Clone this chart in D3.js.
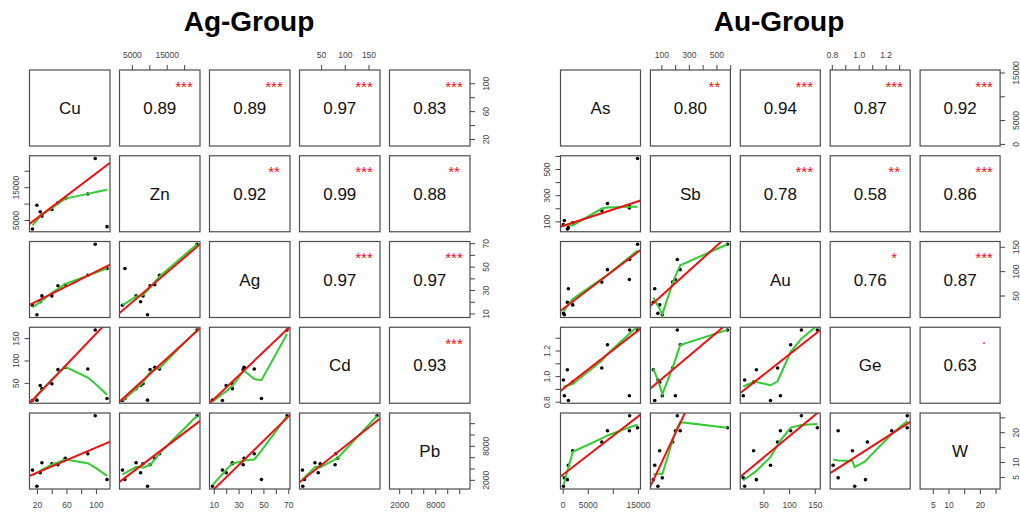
<!DOCTYPE html>
<meta charset="utf-8">
<style>
body { margin: 0; background: #fff; }
svg { font-family: "Liberation Sans", Arial, sans-serif; }
.title { font-size: 28px; font-weight: bold; fill: #000; }
.frame { fill: none; stroke: #4d4d4d; stroke-width: 1.2px; }
.fit { fill: none; stroke: #ee1111; stroke-width: 2px; }
.smooth { fill: none; stroke: #33cc33; stroke-width: 2px; }
.axis text { font-size: 8.5px; fill: #444; }
.axis line { stroke: #444; }
.lab { font-size: 17px; fill: #111; }
.stars { font-size: 15px; fill: #ee1111; }
</style>
<svg width="1020" height="515"></svg>
<script src="https://d3js.org/d3.v7.min.js"></script>
<script>
// ten samples, same order in every element array
var agNames = ["Cu", "Zn", "Ag", "Cd", "Pb"];
var agCu = [14, 20, 24.5, 26.8, 40.3, 48.5, 58.4, 89, 99, 115];
var agZn = [2300, 9500, 7500, 6200, 8200, 10230, 11570, 12940, 23700, 3000];
var agAg = [17, 9, 20, 25, 25, 33.7, 34.5, 42.6, 69, 48.4];
var agCd = [10.7, 11.3, 44, 37, 48, 79.5, 84.7, 81, 168, 15];
var agPb = [3720, 880, 3240, 5010, 4840, 4660, 5800, 6610, 13300, 2070];

var auNames = ["As", "Sb", "Au", "Ge", "W"];
var auAs = [150, 330, 930, 1130, 2000, 7800, 8930, 13300, 13350, 14930];
var auSb = [75, 107, 42, 52, 88, 182, 237, 202, 216, 580];
var auAu = [13.4, 10.7, 36.2, 63.8, 30.8, 77.5, 103, 83, 124, 155];
var auGe = [0.97, 0.847, 1.05, 0.81, 0.953, 1.064, 1.245, 0.847, 1.36, 1.36];
var auW = [1.9, 4.7, 4.1, 8.9, 13.8, 16.7, 20.5, 20.5, 25.5, 21.5];

// upper panels, row by row
var agCor = ["0.89", "0.89", "0.97", "0.83", "0.92", "0.99", "0.88", "0.97", "0.97", "0.93"];
var agStars = ["***", "***", "***", "***", "**", "***", "**", "***", "***", "***"];
var auCor = ["0.80", "0.94", "0.87", "0.92", "0.78", "0.58", "0.86", "0.76", "0.87", "0.63"];
var auStars = ["**", "***", "***", "***", "***", "**", "***", "*", "***", "."];

// fitted lines of the lower panels, row by row: [intercept, slope]
var agFit = [[2157, 170], [14.15, 0.315], [6.69, 0.002541], [-13.2, 1.728], [-2.25, 0.0071],
             [-13.5, 2.65], [2159, 55.1], [953, 0.4663], [-1845, 214.5], [1274, 66.28]];
var auFit = [[64.4, 0.01257], [22.1, 0.00782], [23.8, 0.2555], [0.898, 3.05e-5], [0.885, 0.000907],
             [0.852, 0.003164], [5.72, 0.0013], [-0.2, 0.0984], [4.36, 0.1424], [-16.5, 28.9]];

// axis ticks and their labels
var agTicks = [[20, 40, 60, 80, 100], [5000, 10000, 15000, 20000], [10, 20, 30, 40, 50, 60, 70],
               [50, 100, 150], [2000, 4000, 6000, 8000, 10000, 12000]];
var agTickText = [["20", "", "60", "", "100"], ["5000", "", "15000", ""], ["10", "", "30", "", "50", "", "70"],
                  ["50", "100", "150"], ["2000", "", "", "8000", "", ""]];
var auTicks = [[0, 5000, 10000, 15000], [100, 200, 300, 400, 500, 600], [50, 100, 150],
               [0.8, 0.9, 1.0, 1.1, 1.2, 1.3], [5, 10, 15, 20, 25]];
var auTickText = [["0", "5000", "", "15000"], ["100", "", "300", "", "500", ""], ["50", "100", "150"],
                  ["0.8", "", "1.0", "", "1.2", ""], ["5", "10", "", "20", ""]];

var svg = d3.select("svg");
var top0 = 70, rowStep = 85.75, ph = 76;

function expand(v) {
  var e = d3.extent(v), r = e[1] - e[0];
  return [e[0] - 0.04 * r, e[1] + 0.04 * r];
}

// port of R's clowess
function lowess(xIn, yIn, f, nsteps) {
  var n = xIn.length;
  var ord = d3.range(n).sort(function(a, b) { return xIn[a] - xIn[b]; });
  var x = [0], y = [0];
  ord.forEach(function(k) { x.push(xIn[k]); y.push(yIn[k]); });
  var delta = 0.01 * (x[n] - x[1]);
  var ys = [], rw = [], res = [];
  for (var k = 0; k <= n; k++) { ys.push(0); rw.push(1); res.push(0); }
  var ns = Math.max(2, Math.min(n, Math.floor(f * n + 1e-7)));

  function lowest(xs, nleft, nright, userw) {
    var range = x[n] - x[1];
    var h = Math.max(xs - x[nleft], x[nright] - xs);
    var h9 = 0.999 * h, h1 = 0.001 * h;
    var a = 0, j = nleft, w = res;
    while (j <= n) {
      w[j] = 0;
      var r = Math.abs(x[j] - xs);
      if (r <= h9) {
        w[j] = r <= h1 ? 1 : Math.pow(1 - Math.pow(r / h, 3), 3);
        if (userw) w[j] *= rw[j];
        a += w[j];
      } else if (x[j] > xs) break;
      j++;
    }
    var nrt = j - 1;
    if (a <= 0) return null;
    for (j = nleft; j <= nrt; j++) w[j] /= a;
    if (h > 0) {
      a = 0;
      for (j = nleft; j <= nrt; j++) a += w[j] * x[j];
      var b = xs - a, c = 0;
      for (j = nleft; j <= nrt; j++) c += w[j] * (x[j] - a) * (x[j] - a);
      if (Math.sqrt(c) > 0.001 * range) {
        b /= c;
        for (j = nleft; j <= nrt; j++) w[j] *= (b * (x[j] - a) + 1);
      }
    }
    var v = 0;
    for (j = nleft; j <= nrt; j++) v += w[j] * y[j];
    return v;
  }

  var iter = 1;
  while (iter <= nsteps + 1) {
    var nleft = 1, nright = ns, last = 0, i = 1;
    for (;;) {
      if (nright < n) {
        var d1 = x[i] - x[nleft], d2 = x[nright + 1] - x[i];
        if (d1 > d2) { nleft++; nright++; continue; }
      }
      var v = lowest(x[i], nleft, nright, iter > 1);
      ys[i] = v === null ? y[i] : v;
      if (last < i - 1) {
        var denom = x[i] - x[last];
        for (var j = last + 1; j < i; j++) {
          var al = (x[j] - x[last]) / denom;
          ys[j] = al * ys[i] + (1 - al) * ys[last];
        }
      }
      last = i;
      var cut = x[last] + delta;
      for (i = last + 1; i <= n; i++) {
        if (x[i] > cut) break;
        if (x[i] === x[last]) { ys[i] = ys[last]; last = i; }
      }
      i = Math.max(last + 1, i - 1);
      if (last >= n) break;
    }
    for (k = 1; k <= n; k++) res[k] = y[k] - ys[k];
    if (iter > nsteps) break;
    var ar = [];
    for (k = 1; k <= n; k++) ar.push(Math.abs(res[k]));
    var sc = d3.mean(ar);
    ar.sort(function(a, b) { return a - b; });
    var m1 = Math.floor(n / 2);
    var cmad = n % 2 === 0 ? 3 * (ar[m1] + ar[n - m1 - 1]) : 6 * ar[m1];
    if (cmad < 1e-7 * sc) break;
    var c9 = 0.999 * cmad, c1 = 0.001 * cmad;
    for (k = 1; k <= n; k++) {
      var r = Math.abs(res[k]);
      rw[k] = r <= c1 ? 1 : (r <= c9 ? Math.pow(1 - Math.pow(r / cmad, 2), 2) : 0);
    }
    iter++;
  }
  return x.slice(1).map(function(xv, k) { return [xv, ys[k + 1]]; });
}

function addAxis(p, side, scale, ticks, text) {
  var ax = side === "top" ? d3.axisTop(scale) : side === "bottom" ? d3.axisBottom(scale)
         : side === "left" ? d3.axisLeft(scale) : d3.axisRight(scale);
  ax.tickValues(ticks).tickFormat(function(d, i) { return text[i]; })
    .tickSize(5).tickSizeOuter(0).tickPadding(side === "top" ? 6.7 : 7.8);
  var a = p.append("g").attr("class", "axis").call(ax);
  a.attr("font-family", null).attr("font-size", null);
  a.select(".domain").remove();
  if (side === "left" || side === "right") {
    a.selectAll(".tick text").attr("x", null).attr("dy", null).attr("text-anchor", "middle")
      .attr("transform", side === "right" ? "translate(18.7,0) rotate(-90)" : "translate(-11,0) rotate(-90)");
  }
  return a;
}

function drawGroup(o) {
  var n = o.names.length;
  var g = svg.append("g");
  g.append("text").attr("class", "title").attr("x", o.titleX).attr("y", 31)
    .attr("text-anchor", "middle").text(o.title);

  var xs = o.vars.map(function(v, j) {
    return d3.scaleLinear().domain(expand(v)).range([o.left + j * o.step, o.left + j * o.step + o.pw]);
  });
  var ys = o.vars.map(function(v, i) {
    return d3.scaleLinear().domain(expand(v)).range([top0 + i * rowStep + ph, top0 + i * rowStep]);
  });

  var up = 0, lo = 0;
  for (var i = 0; i < n; i++) {
    for (var j = 0; j < n; j++) {
      var x0 = o.left + j * o.step, y0 = top0 + i * rowStep;
      var p = g.append("g");
      if (i === j) {
        p.append("text").attr("class", "lab").attr("x", x0 + o.pw / 2).attr("y", y0 + ph / 2 + 6.1)
          .attr("text-anchor", "middle").text(o.names[i]);
      } else if (j > i) {
        p.append("text").attr("class", "lab").attr("x", x0 + o.pw / 2).attr("y", y0 + ph / 2 + 6.1)
          .attr("text-anchor", "middle").text(o.cor[up]);
        var s = o.stars[up];
        p.append("text").attr("class", "stars").attr("x", x0 + o.pw - 16)
          .attr("y", y0 + (s === "." ? 17 : 21.5)).attr("text-anchor", "middle").text(s);
        up++;
      } else {
        var id = o.key + "clip" + i + "_" + j;
        p.append("clipPath").attr("id", id).append("rect")
          .attr("x", x0).attr("y", y0).attr("width", o.pw).attr("height", ph);
        var cg = p.append("g").attr("clip-path", "url(#" + id + ")");
        var sx = xs[j], sy = ys[i];
        var pts = o.vars[j].map(function(v, k) { return [v, o.vars[i][k]]; });
        cg.selectAll("circle").data(pts).enter().append("circle")
          .attr("cx", function(d) { return sx(d[0]); })
          .attr("cy", function(d) { return sy(d[1]); })
          .attr("r", 1.8).attr("fill", "#000");
        var sm = lowess(o.vars[j], o.vars[i], 2 / 3, 3);
        cg.append("path").attr("class", "smooth")
          .attr("d", d3.line().x(function(d) { return sx(d[0]); }).y(function(d) { return sy(d[1]); })(sm));
        var fit = o.fit[lo], dom = sx.domain();
        cg.append("line").attr("class", "fit")
          .attr("x1", sx(dom[0])).attr("y1", sy(fit[0] + fit[1] * dom[0]))
          .attr("x2", sx(dom[1])).attr("y2", sy(fit[0] + fit[1] * dom[1]));
        lo++;
      }
      p.append("rect").attr("class", "frame").attr("x", x0).attr("y", y0)
        .attr("width", o.pw).attr("height", ph);

      var ax = p.append("g");
      if (i === 0 && j % 2 === 1) addAxis(ax.attr("transform", "translate(0," + y0 + ")"), "top", xs[j], o.ticks[j], o.tickText[j]);
      if (i === n - 1 && j % 2 === 0) addAxis(ax.attr("transform", "translate(0," + (y0 + ph) + ")"), "bottom", xs[j], o.ticks[j], o.tickText[j]);
      if (j === n - 1 && i % 2 === 0) addAxis(p.append("g").attr("transform", "translate(" + (x0 + o.pw) + ",0)"), "right", ys[i], o.ticks[i], o.tickText[i]);
      if (j === 0 && i % 2 === 1) addAxis(p.append("g").attr("transform", "translate(" + x0 + ",0)"), "left", ys[i], o.ticks[i], o.tickText[i]);
    }
  }
}

drawGroup({
  key: "ag", title: "Ag-Group", titleX: 249, left: 29.5, step: 90, pw: 80.5,
  names: agNames, vars: [agCu, agZn, agAg, agCd, agPb],
  cor: agCor, stars: agStars, fit: agFit, ticks: agTicks, tickText: agTickText
});
drawGroup({
  key: "au", title: "Au-Group", titleX: 779, left: 560.5, step: 89.9, pw: 80,
  names: auNames, vars: [auAs, auSb, auAu, auGe, auW],
  cor: auCor, stars: auStars, fit: auFit, ticks: auTicks, tickText: auTickText
});
</script>
